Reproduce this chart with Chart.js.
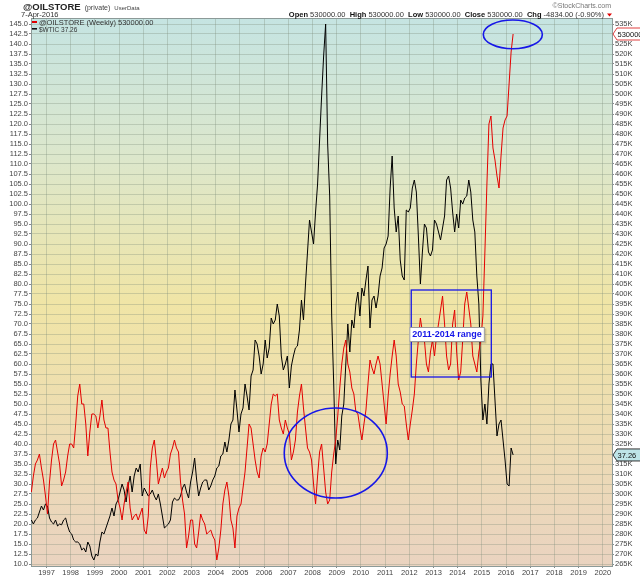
<!DOCTYPE html>
<html lang="en">
<head>
<meta charset="UTF-8">
<title>@OILSTORE vs $WTIC</title>
<script src="https://cdn.jsdelivr.net/npm/chart.js"></script>
<style>
  html, body { margin: 0; padding: 0; background: #fff; }
  canvas { display: block; }
</style>
</head>
<body>
<canvas id="chart" width="640" height="576"></canvas>
<script>
// monthly readings, first value is May 1996, last is early April 2016
const startYear = 1996;
const startMonth = 5;

// $WTIC crude oil, USD (left axis)
const wticClose = [
  21.0, 20.0, 21.0, 21.5, 23.0, 24.5, 23.5, 25.0,                           // 1996
  24.5, 21.5, 20.5, 20.0, 21.0, 19.5, 20.0, 19.8, 21.0, 21.5, 19.5, 18.0,   // 1997
  17.5, 16.0, 15.5, 15.5, 15.0, 13.5, 14.0, 13.0, 15.5, 14.5, 12.0, 11.0,   // 1998
  12.5, 12.0, 15.5, 18.0, 17.5, 19.0, 20.5, 22.0, 24.0, 22.0, 25.0, 26.0,   // 1999
  28.0, 30.0, 28.5, 25.5, 29.5, 32.0, 28.0, 32.0, 34.0, 33.0, 35.0, 27.0,   // 2000
  29.0, 28.0, 27.0, 27.5, 28.5, 27.0, 26.0, 27.5, 25.0, 22.0, 19.0, 19.5,   // 2001
  20.0, 21.0, 25.5, 26.5, 26.0, 26.0, 27.0, 29.0, 30.0, 28.0, 26.5, 30.5,   // 2002
  33.0, 36.5, 31.0, 27.0, 29.0, 30.5, 31.0, 31.0, 28.5, 29.5, 31.0, 32.0,   // 2003
  34.0, 34.5, 37.0, 37.5, 40.5, 38.0, 41.0, 45.0, 46.0, 53.5, 48.5, 43.0,   // 2004
  47.5, 49.0, 55.0, 52.0, 48.5, 57.0, 58.5, 66.0, 65.0, 62.0, 57.5, 60.0,   // 2005
  66.0, 61.5, 64.0, 71.5, 70.0, 71.0, 75.0, 72.0, 62.0, 58.5, 60.0, 62.0,   // 2006
  54.0, 59.5, 62.0, 64.0, 64.5, 68.5, 76.0, 71.0, 80.0, 88.0, 96.0, 93.0,   // 2007
  90.0, 98.0, 105.0, 116.0, 127.0, 137.0, 145.0, 115.0, 102.0, 72.0, 55.0, 35.0, // 2008
  41.0, 38.5, 47.0, 50.0, 60.0, 70.0, 63.0, 71.0, 69.0, 75.0, 78.0, 72.0,   // 2009
  79.0, 77.0, 81.0, 84.5, 69.0, 76.0, 77.0, 74.0, 77.0, 82.0, 84.0, 89.0,   // 2010
  90.0, 92.0, 104.0, 112.0, 99.0, 93.0, 97.0, 86.0, 82.0, 81.0, 98.5, 98.0, // 2011
  99.0, 104.0, 106.0, 103.0, 92.0, 80.0, 88.0, 95.0, 94.0, 88.0, 87.0, 88.5, // 2012
  96.0, 95.0, 93.0, 91.0, 94.0, 97.0, 106.0, 107.0, 104.0, 98.0, 93.0, 97.5, // 2013
  94.0, 101.0, 100.0, 101.5, 102.0, 106.0, 103.0, 96.0, 93.0, 82.0, 75.0, 56.0, // 2014
  46.0, 50.0, 45.0, 55.0, 60.0, 60.0, 51.0, 42.0, 45.0, 46.0, 41.0, 36.0,   // 2015
  30.0, 29.5, 39.0, 37.26                                                   // 2016
];

// @OILSTORE, in K (thousands) on the right axis
const oilStoreK = [
  301, 309, 315, 317, 320, 313, 307, 299,                    // 1996
  290, 306, 317, 325, 327, 321, 315, 304, 307, 311, 319, 325, // 1997
  325, 323, 335, 349, 355, 345, 345, 335, 319, 331, 340, 340, // 1998
  339, 333, 339, 347, 337, 333, 333, 321, 311, 307, 305, 297, // 1999
  293, 287, 295, 301, 306, 293, 287, 289, 290, 287, 290, 293, // 2000
  282, 280, 289, 313, 323, 327, 317, 305, 309, 313, 308, 311, // 2001
  313, 320, 323, 327, 323, 321, 306, 297, 290, 273, 279, 287, // 2002
  287, 275, 273, 281, 290, 287, 285, 280, 281, 282, 279, 277, // 2003
  267, 273, 282, 295, 302, 306, 299, 287, 283, 273, 289, 293, // 2004
  295, 303, 311, 323, 335, 333, 325, 317, 311, 308, 319, 323, // 2005
  321, 325, 335, 345, 350, 349, 350, 337, 333, 330, 337, 333, // 2006
  330, 317, 321, 327, 341, 349, 355, 343, 333, 323, 321, 317, // 2007
  305, 295, 309, 321, 325, 313, 301, 295, 297, 311, 320, 327, // 2008
  339, 353, 365, 373, 377, 365, 361, 353, 350, 341, 340, 333, // 2009
  327, 335, 342, 355, 367, 363, 360, 365, 369, 365, 355, 345, // 2010
  335, 349, 360, 369, 377, 369, 355, 351, 345, 344, 335, 327, // 2011
  335, 342, 350, 365, 377, 388, 381, 377, 365, 361, 371, 377, // 2012
  369, 379, 385, 392, 399, 385, 369, 362, 365, 385, 392, 371, // 2013
  357, 361, 377, 395, 401, 393, 385, 369, 365, 361, 371, 377, // 2014
  389, 421, 455, 485, 489, 473, 467, 459, 453, 469, 483, 487, // 2015
  489, 505, 521, 530                                          // 2016
];

const FONT = '"Liberation Sans", Arial, sans-serif';
const BLUE = 'rgb(22,22,232)';

function monthToYear(i) {
  return startYear + (startMonth - 1 + i + 0.5) / 12;
}

const wticPoints = wticClose.map((v, i) => ({ x: monthToYear(i), y: v }));
const storePoints = oilStoreK.map((v, i) => ({ x: monthToYear(i), y: v }));

// annotations, in axis units (years / left axis)
const ellipseNotes = [
  { x: 2008.96, y: 37.75, rx: 2.13, ry: 11.25 },
  { x: 2016.28, y: 142.4, rx: 1.22, ry: 3.6 }
];
const rangeBox = { x0: 2012.08, x1: 2015.39, y0: 56.75, y1: 78.5 };
const rangeLabel = { x: 2012.0, y: 67.25, text: '2011-2014 range' };

const backdrop = {
  id: 'backdrop',
  beforeDraw(chart) {
    const { ctx, chartArea: a } = chart;
    ctx.save();
    ctx.fillStyle = '#fff';
    ctx.fillRect(0, 0, chart.width, chart.height);
    const g = ctx.createLinearGradient(0, a.top, 0, a.bottom);
    g.addColorStop(0, 'rgb(197,228,226)');
    g.addColorStop(0.25, 'rgb(220,231,204)');
    g.addColorStop(0.52, 'rgb(240,229,166)');
    g.addColorStop(1, 'rgb(234,211,192)');
    ctx.fillStyle = g;
    ctx.fillRect(a.left, a.top, a.right - a.left, a.bottom - a.top);
    ctx.restore();
  }
};

const notes = {
  id: 'notes',
  afterDatasetsDraw(chart) {
    const { ctx } = chart;
    const sx = chart.scales.x, sy = chart.scales.yL;
    ctx.save();
    ctx.strokeStyle = BLUE;
    ctx.lineWidth = 1.6;
    ellipseNotes.forEach(e => {
      const cx = sx.getPixelForValue(e.x), cy = sy.getPixelForValue(e.y);
      const rx = sx.getPixelForValue(e.x + e.rx) - cx;
      const ry = cy - sy.getPixelForValue(e.y + e.ry);
      ctx.beginPath();
      ctx.ellipse(cx, cy, rx, ry, 0, 0, Math.PI * 2);
      ctx.stroke();
    });
    const bx0 = sx.getPixelForValue(rangeBox.x0), bx1 = sx.getPixelForValue(rangeBox.x1);
    const by0 = sy.getPixelForValue(rangeBox.y1), by1 = sy.getPixelForValue(rangeBox.y0);
    ctx.lineWidth = 1.3;
    ctx.strokeRect(bx0, by0, bx1 - bx0, by1 - by0);

    ctx.font = 'bold 9px ' + FONT;
    const lx = sx.getPixelForValue(rangeLabel.x), ly = sy.getPixelForValue(rangeLabel.y);
    const w = ctx.measureText(rangeLabel.text).width + 6;
    ctx.fillStyle = 'rgba(0,0,0,0.15)';
    ctx.fillRect(lx + 1.5, ly - 6.5, w, 15);
    ctx.fillStyle = '#fff';
    ctx.fillRect(lx, ly - 8, w, 15);
    ctx.strokeStyle = '#9a9a9a';
    ctx.lineWidth = 1;
    ctx.strokeRect(lx + 0.5, ly - 7.5, w - 1, 14);
    ctx.fillStyle = BLUE;
    ctx.textBaseline = 'middle';
    ctx.fillText(rangeLabel.text, lx + 3, ly);
    ctx.restore();
  }
};

function priceTag(ctx, x, y, text, fill, stroke, color) {
  ctx.beginPath();
  ctx.moveTo(x, y);
  ctx.lineTo(x + 4, y - 6);
  ctx.lineTo(x + 44, y - 6);
  ctx.lineTo(x + 44, y + 6);
  ctx.lineTo(x + 4, y + 6);
  ctx.closePath();
  ctx.fillStyle = fill;
  ctx.fill();
  ctx.strokeStyle = stroke;
  ctx.lineWidth = 1;
  ctx.stroke();
  ctx.fillStyle = color;
  ctx.textBaseline = 'middle';
  ctx.textAlign = 'left';
  ctx.fillText(text, x + 4.5, y + 0.5);
}

const header = {
  id: 'header',
  afterDraw(chart) {
    const { ctx, chartArea: a } = chart;
    ctx.save();
    // plot frame top edge
    ctx.strokeStyle = '#8c9a98';
    ctx.lineWidth = 1;
    ctx.beginPath();
    ctx.moveTo(a.left, a.top + 0.5);
    ctx.lineTo(a.right, a.top + 0.5);
    ctx.stroke();

    ctx.textBaseline = 'alphabetic';
    ctx.textAlign = 'left';
    ctx.fillStyle = '#222';
    ctx.font = 'bold 9.5px ' + FONT;
    ctx.fillText('@OILSTORE', 23, 9.5);
    let x = 23 + ctx.measureText('@OILSTORE').width + 4;
    ctx.font = '7px ' + FONT;
    ctx.fillStyle = '#444';
    ctx.fillText('(private)', x, 9.5);
    x += ctx.measureText('(private)').width + 4;
    ctx.font = '6px ' + FONT;
    ctx.fillText('UserData', x, 9.5);
    ctx.font = '7.5px ' + FONT;
    ctx.fillStyle = '#333';
    ctx.fillText('7-Apr-2016', 21, 17);

    // quote line, right aligned
    const parts = [
      ['Open', true], [' 530000.00  ', false],
      ['High', true], [' 530000.00  ', false],
      ['Low', true], [' 530000.00  ', false],
      ['Close', true], [' 530000.00  ', false],
      ['Chg', true], [' -4834.00 (-0.90%)', false]
    ];
    let total = 0;
    parts.forEach(p => {
      ctx.font = (p[1] ? 'bold ' : '') + '7.5px ' + FONT;
      total += ctx.measureText(p[0]).width;
    });
    x = 604 - total;
    parts.forEach(p => {
      ctx.font = (p[1] ? 'bold ' : '') + '7.5px ' + FONT;
      ctx.fillStyle = p[1] ? '#111' : '#333';
      ctx.fillText(p[0], x, 17);
      x += ctx.measureText(p[0]).width;
    });
    ctx.fillStyle = '#e00000';
    ctx.beginPath();
    ctx.moveTo(607, 13.5);
    ctx.lineTo(612, 13.5);
    ctx.lineTo(609.5, 16.5);
    ctx.closePath();
    ctx.fill();

    ctx.font = '7px ' + FONT;
    ctx.fillStyle = '#777';
    ctx.textAlign = 'right';
    ctx.fillText('\u00a9StockCharts.com', 611, 8);

    // legend
    ctx.textAlign = 'left';
    ctx.font = '7.5px ' + FONT;
    ctx.fillStyle = '#e00000';
    ctx.fillRect(a.left + 1, 21, 5, 2);
    ctx.fillStyle = '#333';
    ctx.fillText('@OILSTORE (Weekly) 530000.00', a.left + 8, 25);
    ctx.fillStyle = '#111';
    ctx.fillRect(a.left + 1, 28, 5, 1.6);
    ctx.fillStyle = '#333';
    ctx.font = '6.5px ' + FONT;
    ctx.fillText('$WTIC 37.26', a.left + 8, 31.5);

    // last value tags on right axis
    ctx.font = '7.5px ' + FONT;
    const last = oilStoreK[oilStoreK.length - 1];
    priceTag(ctx, a.right + 1, chart.scales.yR.getPixelForValue(last),
      (last * 1000).toFixed(2), '#fff', '#e04040', '#111');
    const lastW = wticClose[wticClose.length - 1];
    priceTag(ctx, a.right + 1, chart.scales.yL.getPixelForValue(lastW),
      lastW.toFixed(2), 'rgb(190,228,232)', '#333', '#111');
    ctx.restore();
  }
};

const tickFont = { family: FONT, size: 7.5 };
const gridColor = 'rgba(125,140,120,0.32)';

new Chart(document.getElementById('chart').getContext('2d'), {
  type: 'line',
  data: {
    datasets: [
      {
        label: '@OILSTORE (Weekly)',
        data: storePoints,
        yAxisID: 'yR',
        borderColor: 'rgb(228,0,0)',
        borderWidth: 1,
        pointRadius: 0,
        tension: 0
      },
      {
        label: '$WTIC',
        data: wticPoints,
        yAxisID: 'yL',
        borderColor: '#000',
        borderWidth: 1,
        pointRadius: 0,
        tension: 0
      }
    ]
  },
  options: {
    responsive: false,
    animation: false,
    events: [],
    layout: { padding: { top: 18, left: 0, right: 0, bottom: 0 } },
    plugins: { legend: { display: false }, tooltip: { enabled: false } },
    scales: {
      x: {
        type: 'linear',
        min: 1996.36,
        max: 2020.38,
        ticks: {
          stepSize: 1, includeBounds: false, autoSkip: false, maxRotation: 0,
          padding: 0, font: tickFont, color: '#444',
          callback: v => String(Math.round(v))
        },
        grid: { color: gridColor, tickLength: 2, tickColor: '#888' },
        border: { color: '#8c9a98' },
        afterFit: s => { s.height = 10; }
      },
      yL: {
        position: 'left',
        min: 9.5,
        max: 146.5,
        ticks: {
          stepSize: 2.5, includeBounds: false, autoSkip: false,
          padding: 1, font: tickFont, color: '#444',
          callback: v => v.toFixed(1)
        },
        grid: { color: gridColor, tickLength: 2, tickColor: '#888' },
        border: { color: '#8c9a98' },
        afterFit: s => { s.width = 31; }
      },
      yR: {
        position: 'right',
        min: 264,
        max: 538,
        ticks: {
          stepSize: 5, includeBounds: false, autoSkip: false,
          padding: 1, font: tickFont, color: '#444',
          callback: v => v + 'K'
        },
        grid: { drawOnChartArea: false, tickLength: 2, tickColor: '#888' },
        border: { color: '#8c9a98' },
        afterFit: s => { s.width = 28; }
      }
    }
  },
  plugins: [backdrop, notes, header]
});
</script>
</body>
</html>
